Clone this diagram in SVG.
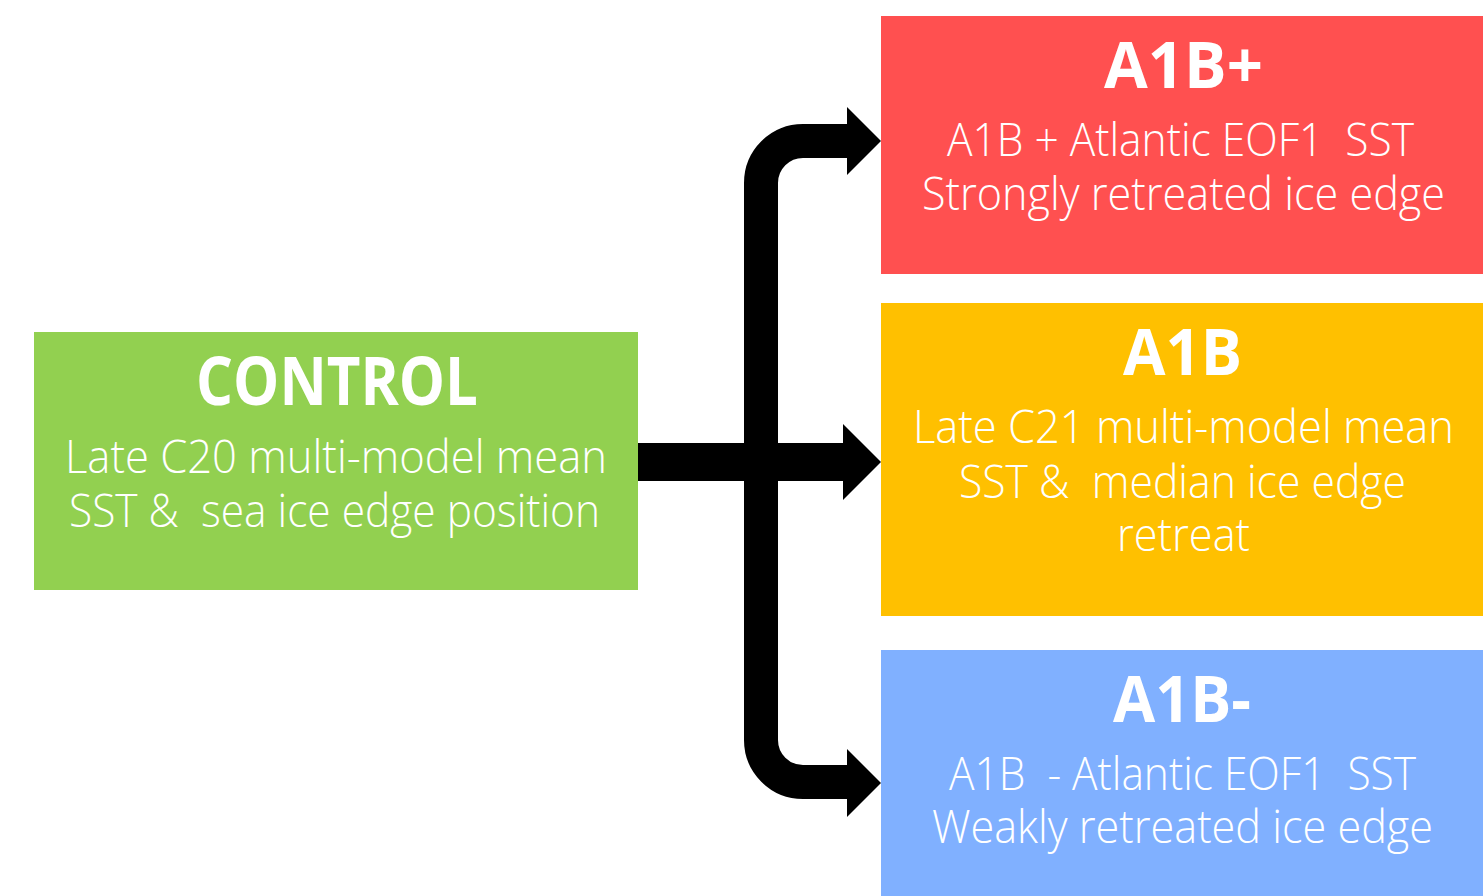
<svg xmlns="http://www.w3.org/2000/svg" width="1483" height="896" viewBox="0 0 1483 896">
<style>
.title{font-family:"Open Sans","Noto Sans","Liberation Sans",sans-serif;font-weight:700;fill:#ffffff;}
.body{font-family:"Open Sans","Noto Sans","Liberation Sans",sans-serif;font-weight:300;fill:#ffffff;font-size:46px;}
.conn{fill:none;stroke:#000000;}
.head{fill:#000000;}
</style>
<rect x="0" y="0" width="1483" height="896" fill="#ffffff"/>
<g id="connectors">
<path class="conn" stroke-width="34" d="M 848 141 H 803 A 42 42 0 0 0 761 183 V 740 A 42 42 0 0 0 803 782 H 848"/>
<path class="conn" stroke-width="38" d="M 638 462 H 844"/>
<polygon class="head" points="847,107 881,141 847,175"/>
<polygon class="head" points="843,424 881,462 843,500"/>
<polygon class="head" points="847,749 881,783 847,817"/>
</g>
<g id="control">
<rect x="34" y="332" width="604" height="258" fill="#92D050"/>
<text class="title" x="196" y="405" font-size="66" textLength="282" lengthAdjust="spacingAndGlyphs">CONTROL</text>
<text class="body" x="65" y="473" textLength="542" lengthAdjust="spacingAndGlyphs">Late C20 multi-model mean</text>
<text class="body" x="69" y="527" textLength="531" lengthAdjust="spacingAndGlyphs" xml:space="preserve">SST &amp;  sea ice edge position</text>
</g>
<g id="a1bplus">
<rect x="881" y="16" width="602" height="258" fill="#FF5050"/>
<text class="title" x="1104" y="88" font-size="64" textLength="159" lengthAdjust="spacingAndGlyphs">A1B+</text>
<text class="body" x="947" y="156" textLength="467" lengthAdjust="spacingAndGlyphs" xml:space="preserve">A1B + Atlantic EOF1  SST</text>
<text class="body" x="922" y="210" textLength="523" lengthAdjust="spacingAndGlyphs">Strongly retreated ice edge</text>
</g>
<g id="a1b">
<rect x="881" y="303" width="602" height="313" fill="#FFC000"/>
<text class="title" x="1123" y="375" font-size="64" textLength="119" lengthAdjust="spacingAndGlyphs">A1B</text>
<text class="body" x="913" y="443" textLength="541" lengthAdjust="spacingAndGlyphs">Late C21 multi-model mean</text>
<text class="body" x="959" y="498" textLength="447" lengthAdjust="spacingAndGlyphs" xml:space="preserve">SST &amp;  median ice edge</text>
<text class="body" x="1117" y="551" textLength="133" lengthAdjust="spacingAndGlyphs">retreat</text>
</g>
<g id="a1bminus">
<rect x="881" y="650" width="602" height="246" fill="#80B0FF"/>
<text class="title" x="1113" y="722" font-size="64" textLength="138" lengthAdjust="spacingAndGlyphs">A1B-</text>
<text class="body" x="949" y="790" textLength="467" lengthAdjust="spacingAndGlyphs" xml:space="preserve">A1B  - Atlantic EOF1  SST</text>
<text class="body" x="932" y="843" textLength="501" lengthAdjust="spacingAndGlyphs">Weakly retreated ice edge</text>
</g>
</svg>
